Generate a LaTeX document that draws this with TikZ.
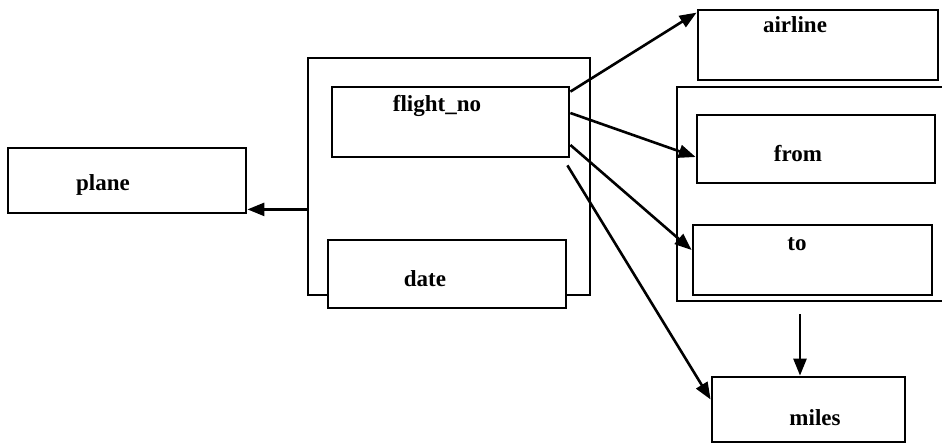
\documentclass[tikz,border=0pt]{standalone}
\usepackage{fontspec}
\setmainfont{Liberation Serif}
\usetikzlibrary{arrows.meta,calc}
\begin{document}
\begin{tikzpicture}[x=1pt,y=-1pt,
  box/.style={draw,line width=2.8pt,rectangle,inner sep=0pt},
  lbl/.style={font=\fontsize{23}{23}\selectfont\bfseries,inner sep=0pt},
  arr/.style={line width=2.6pt,-{Triangle[length=17pt,width=13pt]}}]
\useasboundingbox (0,0) rectangle (942,444);
\clip (0,0) rectangle (942,444);
\fill[white] (0,0) rectangle (942,444);
% boxes given by corners
\node[box,minimum width=238pt,minimum height=65pt] (plane) at (127,180.5) {};
\node[box,minimum width=282pt,minimum height=237pt] (outer) at (449,176.5) {};
\node[box,fill=white,minimum width=237pt,minimum height=70pt] (fno) at (450.5,122) {};
\node[box,fill=white,minimum width=238pt,minimum height=68pt] (date) at (447,274) {};
\node[box,minimum width=240pt,minimum height=70pt] (air) at (818,45) {};
\node[box,minimum width=280pt,minimum height=214pt] (outer2) at (817,194) {};
\node[box,minimum width=238pt,minimum height=68pt] (from) at (816,149) {};
\node[box,minimum width=239pt,minimum height=70pt] (to) at (812.5,260) {};
\node[box,minimum width=193pt,minimum height=65pt] (miles) at (808.5,409.5) {};
% labels
\node[lbl] (tplane) at (103,185) {plane};
\node[lbl] (tfno) at (437,106) {flight\_no};
\node[lbl] (tdate) at (425,279) {date};
\node[lbl] (tair) at (795,25) {airline};
\node[lbl] (tfrom) at (798,154) {from};
\node[lbl] (tto) at (797,244) {to};
\node[lbl] (tmiles) at (815,418) {miles};
% connectors
\coordinate (pa) at ($(plane.south east)+(0,-5)$);
\draw[arr] (outer.west |- pa) -- (pa);
\draw[arr] ($(fno.north east)+(0,6)$) -- ($(air.north west)+(0,4)$);
\draw[arr] ($(fno.east)+(0,-9)$) -- ($(from.west)+(0,8)$);
\draw[arr] ($(fno.east)+(0,23)$) -- ($(to.west)+(0,-10)$);
\draw[arr] ($(fno.south east)+(-3,7)$) -- ($(miles.west)+(0,-10)$);
\coordinate (ds) at ($(outer2.south)+(-17,12)$);
\draw[arr] (ds) -- (miles.north -| ds);
\end{tikzpicture}
\end{document}
